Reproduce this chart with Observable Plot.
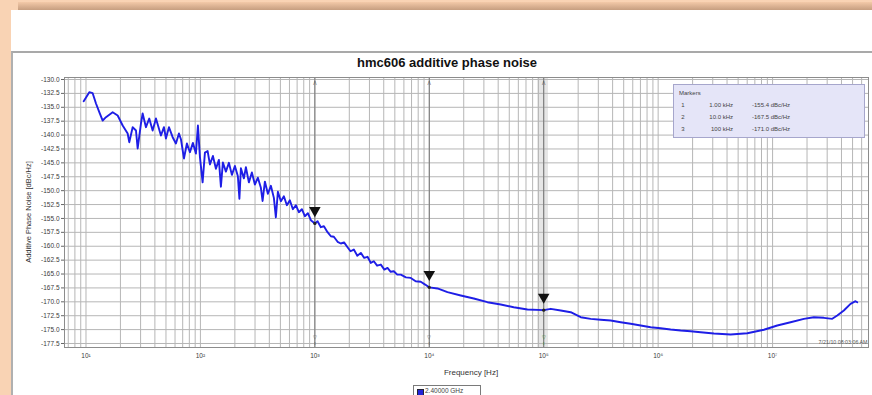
<!DOCTYPE html>
<html>
<head>
<meta charset="utf-8">
<script src="https://cdn.jsdelivr.net/npm/d3@7"></script>
<script src="https://cdn.jsdelivr.net/npm/@observablehq/plot@0.6"></script>
<style>
  html, body { margin: 0; padding: 0; }
  body { width: 872px; height: 395px; position: relative; overflow: hidden; background: #f9d3b4;
         font-family: "Liberation Sans", Arial, sans-serif; }
  #shadow { position: absolute; left: 18px; right: 0; top: 2px; height: 8px;
            background: linear-gradient(#f3c9a8, #c69e80); }
  #panel { position: absolute; left: 11px; top: 10px; right: 0; bottom: 0; background: #fff; }
  #frame { position: absolute; left: 11px; top: 51px; right: 0; bottom: 0;
           border-top: 2px solid #a9a9a9; border-left: 2px solid #b0b0b0; }
  #chart { position: absolute; left: 0; top: 0; }
  .abs { position: absolute; white-space: nowrap; }
  #title { left: 447px; top: 55px; transform: translateX(-50%); font-weight: bold; font-size: 13px; color: #111; }
  #ylabel { left: 28px; top: 212px; transform: translate(-50%, -50%) rotate(-90deg); font-size: 7.5px; color: #333; }
  #xlabel { left: 471px; top: 372px; transform: translate(-50%, -50%); font-size: 8px; color: #333; }
  #mbox { left: 673px; top: 84px; width: 190px; height: 52px; background: #e5e5f8; border: 1px solid #a6a6cc; }
  #mbox span { position: absolute; font-size: 6px; color: #444; transform: translateY(-50%); white-space: nowrap; }
  #legend { left: 413px; top: 385px; width: 66px; height: 14px; border: 1px solid #7a7a7a; background: #fff; }
  #legend .sw { position: absolute; left: 3px; top: 3px; width: 5px; height: 5px; background: #2323d8; border: 0.5px solid #223; }
  #legend .tx { position: absolute; left: 11px; top: 1px; font-size: 6.5px; color: #444; }
</style>
</head>
<body>
<div id="shadow"></div>
<div id="panel"></div>
<div id="frame"></div>
<div id="chart"></div>
<div id="title" class="abs"></div>
<div id="ylabel" class="abs"></div>
<div id="xlabel" class="abs"></div>
<div id="mbox" class="abs"></div>
<div id="legend" class="abs"><div class="sw"></div><div class="tx"></div></div>
<script>
// ---- data ----
const titleText = "hmc606 additive phase noise";
const yLabelText = "Additive Phase Noise [dBc/Hz]";
const xLabelText = "Frequency [Hz]";
const seriesName = "2.40000 GHz";
const timestampText = "7/21/10 08:03:06 AM";

// offset frequency in Hz
const freqHz = [
  9.55, 10.69, 11.44, 12.23, 13.07, 13.99, 14.95, 17.11, 18.92, 20.92,
  23.13, 23.89, 25.58, 27.34, 28.29, 30.22, 31.27, 33.42, 35.71, 38.23,
  40.88, 45.19, 48.0, 49.96, 53.08, 57.19, 61.09, 64.91,
  67.57, 71.77, 76.21, 80.95, 86.0, 91.34, 95.1, 99.0, 104.5, 109.5,
  115.6, 121.1, 128.6, 136.6, 145.0, 151.0, 157.2, 167.0, 177.4, 188.4,
  200.1, 212.5, 219.1, 225.8, 239.8, 249.7, 265.2, 281.7, 299.2, 317.8,
  337.6, 349.3, 365.9, 388.6, 412.8, 438.5, 456.4, 475.3, 505.0, 536.3,
  569.5, 604.9, 642.6, 682.5, 725.0, 770.1, 817.9, 868.8, 922.8, 1000,
  1056, 1128, 1200, 1291, 1380, 1466, 1580, 1687, 1800, 1930,
  2050, 2191, 2350, 2522, 2700, 2886, 3080, 3276, 3500, 3771,
  4050, 4314, 4600, 4898, 5250, 5638, 6250, 6893, 7600, 8428,
  9200, 10000, 11791, 14420, 18840, 24470, 32240, 42130, 54700, 72050,
  100000, 115100, 140800, 172100, 210500, 257300, 314700, 384800, 470500, 575200,
  703600, 860000, 1.051e6, 1.286e6, 1.572e6, 1.922e6, 2.351e6, 3.072e6, 4.297e6, 6.012e6,
  8.395e6, 1.099e7, 1.436e7, 1.877e7, 2.294e7, 2.806e7, 3.322e7, 3.674e7, 4.195e7, 4.8e7,
  5.308e7, 5.492e7
];
// additive phase noise in dBc/Hz
const noiseDbc = [
  -133.9, -132.28, -132.46, -134.32, -135.88, -137.38, -136.78, -135.88, -136.48, -138.28,
  -139.72, -141.28, -138.58, -139.18, -142.41, -137.92, -136.12, -138.58, -137.02, -139.18,
  -137.02, -140.08, -138.58, -140.62, -138.58, -140.38, -141.51, -139.72,
  -140.74, -144.21, -141.51, -143.08, -141.41, -143.33, -138.28, -143.91, -148.5, -143.15,
  -142.88, -145.28, -143.76, -146.05, -144.47, -149.29, -144.92, -146.57, -144.99, -147.16,
  -145.56, -147.4, -151.46, -145.98, -147.79, -145.78, -148.51, -146.73, -148.91, -147.67,
  -149.49, -151.86, -148.37, -150.55, -149.13, -151.3, -154.79, -150.19, -151.9, -151.0,
  -152.62, -151.72, -153.34, -152.62, -153.88, -153.34, -154.6, -154.06, -155.32, -155.9,
  -155.5, -156.57, -156.4, -157.47, -158.2, -158.3, -159.2, -159.51, -159.3, -160.17,
  -160.9, -160.6, -161.7, -161.2, -162.1, -161.9, -163.0, -162.7, -163.5, -163.3,
  -164.2, -163.9, -164.6, -164.5, -165.1, -165.1, -165.6, -165.7, -166.3, -166.4,
  -166.9, -167.4, -167.6, -168.27, -168.86, -169.4, -170.07, -170.48, -170.97, -171.38,
  -171.5, -171.26, -171.56, -171.87, -172.77, -173.06, -173.23, -173.36, -173.67, -173.95,
  -174.26, -174.57, -174.75, -174.98, -175.16, -175.29, -175.47, -175.7, -175.88, -175.65,
  -175.03, -174.26, -173.67, -173.06, -172.77, -172.88, -173.06, -172.46, -171.56, -170.36,
  -169.89, -170.07
];

const markerIds = ["1", "2", "3"];
const markerFreq = [1000, 10000, 100000];
const markerFreqLabels = ["1.00 kHz", "10.0 kHz", "100 kHz"];
const markerValues = [-155.4, -167.5, -171.0];
const markerCurve = [-155.9, -167.4, -171.5];

const yTicks = [-177.5, -175, -172.5, -170, -167.5, -165, -162.5, -160, -157.5, -155,
  -152.5, -150, -147.5, -145, -142.5, -140, -137.5, -135, -132.5, -130];
const xTicks = [10, 100, 1000, 1e4, 1e5, 1e6, 1e7];
const xTickLabels = ["10¹", "10²", "10³", "10⁴", "10⁵", "10⁶", "10⁷"];

// ---- build ----
const noise = freqHz.map((f, i) => ({f, db: noiseDbc[i]}));
const markers = markerFreq.map((f, i) => ({id: markerIds[i], f, v: markerCurve[i]}));

const minorTicks = [];
for (let e = 0; e <= 7; e++) for (let k = 1; k <= 9; k++) {
  const v = k * Math.pow(10, e);
  if (v > 6.5 && v < 6.8e7) minorTicks.push(v);
}

const fontFam = "'Liberation Sans', Arial, sans-serif";
const chart = Plot.plot({
  width: 872, height: 395,
  marginLeft: 64, marginRight: 4, marginTop: 77, marginBottom: 48,
  style: {background: "transparent", fontFamily: fontFam, fontSize: "6.5px", color: "#3a3a3a"},
  x: {type: "log", domain: [6.49, 6.89e7]},
  y: {domain: [-178.22, -129.64]},
  marks: [
    Plot.rect([markerFreq[2]], {x1: d => d * 0.885, x2: d => d * 1.1, fill: "#e6e6e6"}),
    Plot.gridX(minorTicks, {stroke: "#b6b6b6", strokeOpacity: 1}),
    Plot.gridY(yTicks, {stroke: "#b6b6b6", strokeOpacity: 1}),
    Plot.ruleX(markerFreq, {stroke: "#777", strokeWidth: 1}),
    Plot.frame({stroke: "#8c8c8c"}),
    Plot.axisY(yTicks, {tickSize: 3, tickPadding: 2, tickFormat: d => d.toFixed(1), label: null, stroke: "#666"}),
    Plot.axisX(xTicks, {tickSize: 0, tickPadding: 6, tickFormat: d => xTickLabels[xTicks.indexOf(d)], label: null}),
    Plot.line(noise, {x: "f", y: "db", stroke: "#1e1ee6", strokeWidth: 1.9, strokeLinejoin: "round"}),
    Plot.dot(markers, {x: "f", y: "v", r: 1.6, fill: "#222"}),
    Plot.dot(markers, {x: "f", y: "v", symbol: "triangle", r: 4.3, rotate: 180, fill: "#111", dy: -13}),
    Plot.text(markers, {x: "f", frameAnchor: "top", text: () => "Λ", dy: 4, fontSize: 5, fill: "#555"}),
    Plot.text(markers, {x: "f", frameAnchor: "bottom", text: () => "▽", dy: -9, fontSize: 5,
      fill: (d, i) => i === 2 ? "#2c8a2c" : "#555"}),
    Plot.text(markers, {x: "f", frameAnchor: "bottom", text: () => "ı", dy: -3, fontSize: 5,
      fill: (d, i) => i === 2 ? "#2c8a2c" : "#555"}),
    Plot.text([timestampText], {frameAnchor: "bottom-right", text: d => d, dx: -1, dy: -4, fontSize: 5.3, fill: "#555"})
  ]
});
document.getElementById("chart").appendChild(chart);

document.getElementById("title").textContent = titleText;
document.getElementById("ylabel").textContent = yLabelText;
document.getElementById("xlabel").textContent = xLabelText;
document.querySelector("#legend .tx").textContent = seriesName;

const mbox = document.getElementById("mbox");
function addSpan(txt, left, top, align) {
  const s = document.createElement("span");
  s.textContent = txt;
  s.style.top = top + "px";
  if (align === "right") { s.style.right = (190 - left) + "px"; }
  else if (align === "center") { s.style.left = left + "px"; s.style.transform = "translate(-50%,-50%)"; }
  else { s.style.left = left + "px"; }
  mbox.appendChild(s);
}
addSpan("Markers", 5, 8, "left");
const rowY = [20, 32, 44];
markerIds.forEach((id, i) => {
  addSpan(id, 9, rowY[i], "center");
  addSpan(markerFreqLabels[i], 59, rowY[i], "right");
  addSpan(markerValues[i].toFixed(1) + " dBc/Hz", 78, rowY[i], "left");
});
</script>
</body>
</html>
